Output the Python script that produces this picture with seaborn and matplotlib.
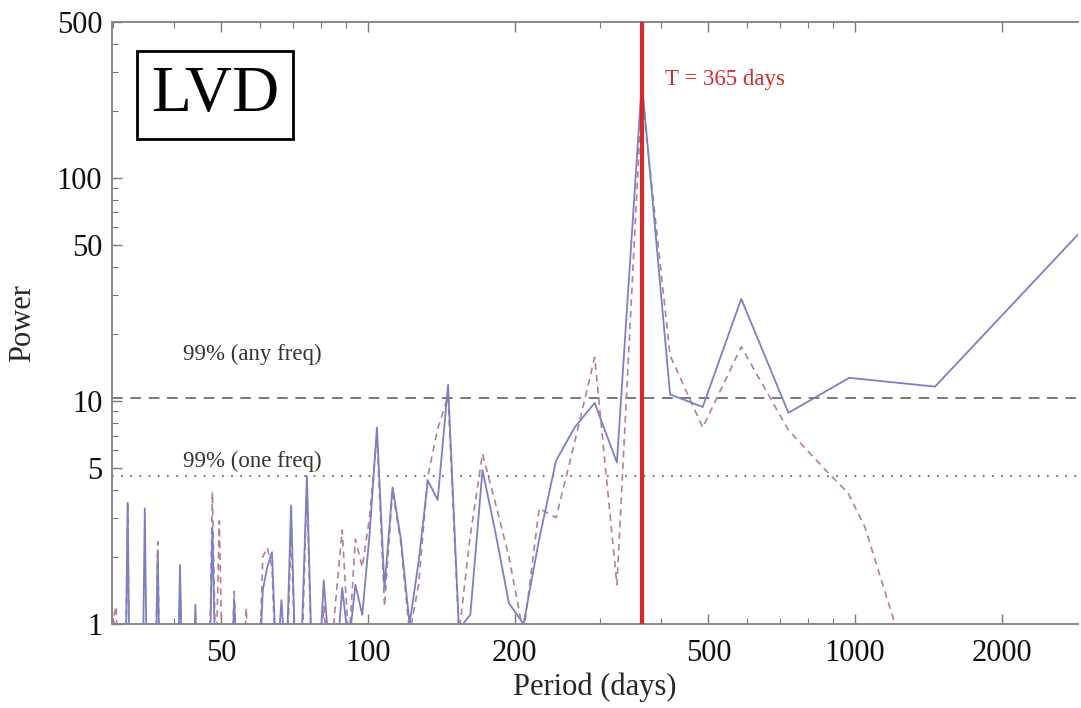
import numpy as np
import pandas as pd
import matplotlib
matplotlib.use("Agg")
import matplotlib.pyplot as plt
from matplotlib.ticker import LogLocator, FixedLocator, FixedFormatter, NullFormatter
import seaborn as sns

# ---------------------- Data ----------------------
# periods of the periodogram samples (days), longest first
period = [2920, 1460, 973.3, 730, 584, 486.7, 417.1, 365, 324.4, 292,
          265.5, 243.3, 224.6, 208.6, 194.7, 182.5, 171.8, 162.2, 153.7, 146,
          139, 132.7, 127, 121.7, 116.8, 112.3, 108.1, 104.3, 100.7, 97.3,
          94.2, 91.3, 88.5, 85.9, 83.4, 81.1, 78.9, 76.8, 74.9, 73,
          71.2, 69.5, 67.9, 66.4, 64.9, 63.5, 62.1, 60.8, 59.6, 58.4,
          57.3, 56.2, 55.1, 54.1, 53.1, 52.1, 51.2, 50.3, 49.5, 48.7,
          47.9, 47.1, 46.3, 45.6, 44.9, 44.2, 43.6, 42.9, 42.3, 41.7,
          41.1, 40.6, 40, 39.5, 38.9, 38.4, 37.9, 37.4, 37, 36.5,
          36, 35.6, 35.2, 34.8, 34.4, 34, 33.6, 33.2, 32.8, 32.4,
          32.1, 31.7, 31.4, 31.1, 30.7, 30.4, 30.1, 29.8]

# solid curve
power_solid = [58, 11.6, 12.7, 8.85, 28.7, 9.4, 10.7, 270, 5.3, 9.8,
               7.6, 5.4, 2.4, 1.0, 1.24, 2.6, 4.9, 1.1, 0.95, 11.8,
               3.6, 4.4, 1.9, 1.0, 2.4, 4.1, 1.45, 7.6, 2.5, 1.1,
               1.5, 0.8, 1.45, 0.6, 0.7, 1.57, 0.5, 0.6, 4.6, 0.8,
               0.5, 3.4, 0.6, 1.28, 0.6, 2.1, 1.8, 1.42, 0.5, 0.4,
               0.4, 0.8, 0.4, 0.5, 1.28, 0.4, 0.4, 0.4, 1.0, 0.5,
               2.7, 0.4, 0.4, 0.4, 0.4, 1.22, 0.4, 0.4, 0.4, 0.4,
               1.84, 0.4, 0.4, 0.4, 0.4, 0.4, 0.4, 0.4, 2.08, 0.4,
               0.4, 0.4, 0.4, 3.3, 0.4, 0.4, 0.4, 0.4, 0.4, 0.4,
               3.5, 0.4, 0.4, 0.4, 0.4, 0.4, 0.4, 0.4]

# dashed curve: extra points on the long-period tail, then the shared grid from 730 d
period_dashed_tail = [1300, 1208, 1048, 968, 881]
power_dashed = [0.5, 1.0, 2.72, 3.87, 4.76,
                7.4, 17.5, 7.6, 16, 240, 1.5, 15.7,
                6.5, 3.0, 3.3, 0.9, 2.0, 3.5, 5.8, 2.5, 0.9, 10.5,
                7.5, 4.6, 1.5, 0.9, 2.3, 4.0, 1.2, 7.0, 3.0, 1.8,
                2.4, 0.8, 2.64, 1.3, 0.6, 1.2, 0.5, 0.5, 4.2, 0.6,
                0.5, 2.6, 0.5, 0.6, 0.5, 1.8, 2.2, 2.0, 0.5, 0.4,
                0.5, 1.18, 0.4, 0.5, 1.4, 0.4, 0.4, 0.5, 2.9, 0.6,
                3.9, 0.4, 0.4, 0.4, 0.4, 1.0, 0.4, 0.4, 0.4, 0.4,
                1.5, 0.4, 0.4, 0.4, 0.4, 0.4, 0.4, 0.4, 2.34, 0.4,
                0.4, 0.4, 0.4, 0.5, 0.4, 0.4, 0.4, 0.4, 0.4, 0.4,
                3.5, 0.4, 0.4, 0.4, 0.4, 1.2, 1.1, 0.4]

level_any = 10.3
level_one = 4.6
t_year = 365

x_ticks = [50, 100, 200, 500, 1000, 2000]
y_ticks = [1, 5, 10, 50, 100, 500]

solid_df = pd.DataFrame({"Period": period, "Power": power_solid})
dashed_df = pd.DataFrame({"Period": period_dashed_tail + period[3:],
                          "Power": power_dashed})

# ---------------------- Plot ----------------------
sns.set_theme(style="ticks")
plt.rcParams["font.family"] = ["Liberation Serif", "DejaVu Serif"]

fig = plt.figure(figsize=(10.81, 7.08), dpi=100)
ax = fig.add_axes([0.1036, 0.1186, 0.8936, 0.8503])

ax.axhline(level_any, color="#555555", lw=1.1, ls=(0, (7, 5)), zorder=1)
ax.axhline(level_one, color="#555555", lw=1.2, ls=(0, (1, 4.5)), zorder=1)

sns.lineplot(data=dashed_df, x="Period", y="Power", ax=ax, color="#b57d9c",
             lw=1.2, linestyle=(0, (4, 3)), estimator=None, sort=True, zorder=2)
sns.lineplot(data=solid_df, x="Period", y="Power", ax=ax, color="#7c80c2",
             lw=1.3, estimator=None, sort=True, zorder=3)

ax.axvline(t_year, color="#d42a2a", lw=3, zorder=4)

ax.set_xscale("log")
ax.set_yscale("log")
ax.set_xlim(29.8, 2870)
ax.set_ylim(1, 500)

ax.xaxis.set_major_locator(FixedLocator(x_ticks))
ax.xaxis.set_major_formatter(FixedFormatter([str(t) for t in x_ticks]))
ax.xaxis.set_minor_locator(LogLocator(base=10, subs=np.arange(2, 10)))
ax.xaxis.set_minor_formatter(NullFormatter())
ax.yaxis.set_major_locator(FixedLocator(y_ticks))
ax.yaxis.set_major_formatter(FixedFormatter([str(t) for t in y_ticks]))
ax.yaxis.set_minor_locator(LogLocator(base=10, subs=np.arange(2, 10)))
ax.yaxis.set_minor_formatter(NullFormatter())

ax.tick_params(which="both", direction="in", top=True, right=False,
               color="#777777", labelsize=22, pad=7, labelcolor="#111111")
ax.tick_params(axis="x", pad=11)
ax.tick_params(which="major", length=7, width=1)
ax.tick_params(which="minor", length=4, width=0.8)
for side in ["left", "bottom", "top"]:
    ax.spines[side].set_color("#888888")
    ax.spines[side].set_linewidth(1.4)
ax.spines["right"].set_visible(False)

ax.set_xlabel("Period (days)", fontsize=22, labelpad=3)
ax.set_ylabel("Power", fontsize=22, labelpad=14)

ax.text(41.6, 16.1, "99% (any freq)", fontsize=16.5, color="#333333", va="center")
ax.text(41.6, 5.35, "99% (one freq)", fontsize=16.5, color="#333333", va="center")
ax.text(408, 275, "T = 365 days", fontsize=16.5, color="#d42a2a", va="center")

ax.text(0.1066, 0.879, "LVD", transform=ax.transAxes, fontsize=47,
        ha="center", va="center", color="black",
        bbox=dict(boxstyle="square,pad=0.22", fc="white", ec="black", lw=2))

fig.savefig("out.png", dpi=100)
